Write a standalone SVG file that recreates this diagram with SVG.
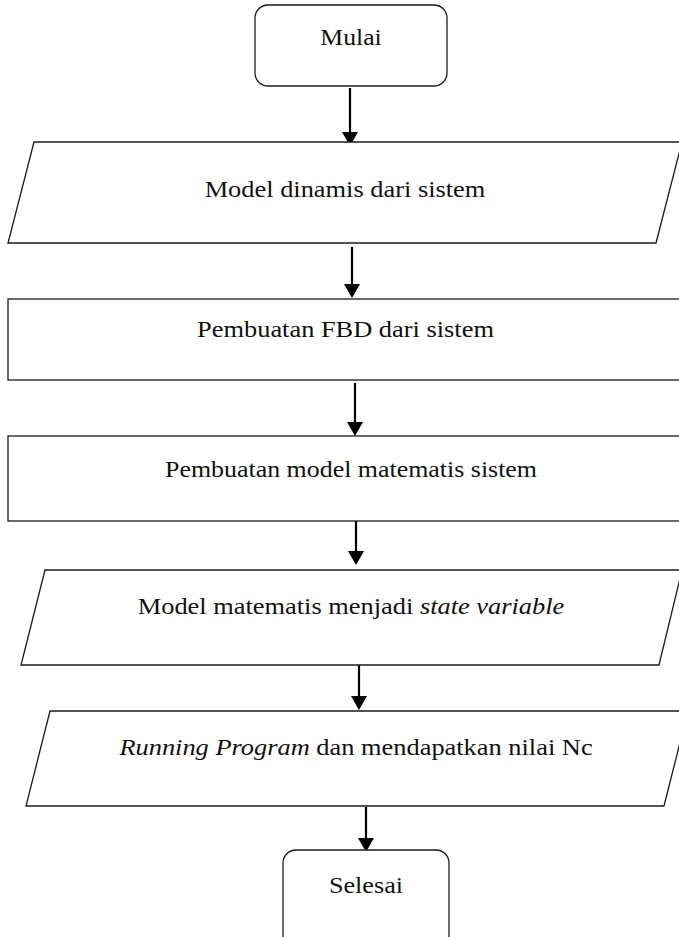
<svg xmlns="http://www.w3.org/2000/svg" width="679" height="937" viewBox="0 0 679 937">
<style>
.box{fill:#fff;stroke:#1a1a1a;stroke-width:1.3}
.it{font-style:italic}
.conn{stroke:#000;stroke-width:2.2;fill:none;marker-end:url(#ah)}
</style>
<defs>
<marker id="ah" viewBox="0 0 14 16" refX="8" refY="8" markerWidth="14" markerHeight="16" markerUnits="userSpaceOnUse" orient="auto">
<path d="M0,0 L14,8 L0,16 z" fill="#000"/>
</marker>
</defs>
<rect width="679" height="937" fill="#fff"/>
<g id="connectors">
<line class="conn" x1="350" y1="88" x2="350" y2="140"/>
<line class="conn" x1="352" y1="247" x2="352" y2="292"/>
<line class="conn" x1="355" y1="383" x2="355" y2="430"/>
<line class="conn" x1="356" y1="517" x2="356" y2="559"/>
<line class="conn" x1="359" y1="662" x2="359" y2="704"/>
<line class="conn" x1="366" y1="807" x2="366" y2="846"/>
</g>
<g font-family="Liberation Serif, Tinos, Times New Roman, Times, serif" font-size="24" fill="#111" text-anchor="middle">
<g id="mulai">
<rect class="box" x="255" y="5" width="192" height="81" rx="13"/>
<text transform="translate(351,45) scale(1.07,1)">Mulai</text>
</g>
<g id="model-dinamis">
<polygon class="box" points="34,142 682,142 656,243 8,243"/>
<text transform="translate(345,197) scale(1.1,1)">Model dinamis dari sistem</text>
</g>
<g id="fbd">
<rect class="box" x="8" y="299" width="690" height="81"/>
<text transform="translate(345.5,337) scale(1.1,1)">Pembuatan FBD dari sistem</text>
</g>
<g id="model-matematis">
<rect class="box" x="8" y="436" width="690" height="85"/>
<text transform="translate(351,477) scale(1.08,1)">Pembuatan model matematis sistem</text>
</g>
<g id="state-variable">
<polygon class="box" points="45,570 682,570 659,665 21,665"/>
<text transform="translate(351,614) scale(1.1,1)">Model matematis menjadi <tspan class="it">state variable</tspan></text>
</g>
<g id="running">
<polygon class="box" points="50,711 688,711 664,806 26,806"/>
<text transform="translate(356,755) scale(1.1,1)"><tspan class="it">Running Program</tspan> dan mendapatkan nilai Nc</text>
</g>
<g id="selesai">
<rect class="box" x="283" y="850" width="166" height="110" rx="13"/>
<text transform="translate(366,893) scale(1.09,1)">Selesai</text>
</g>
</g>
</svg>
